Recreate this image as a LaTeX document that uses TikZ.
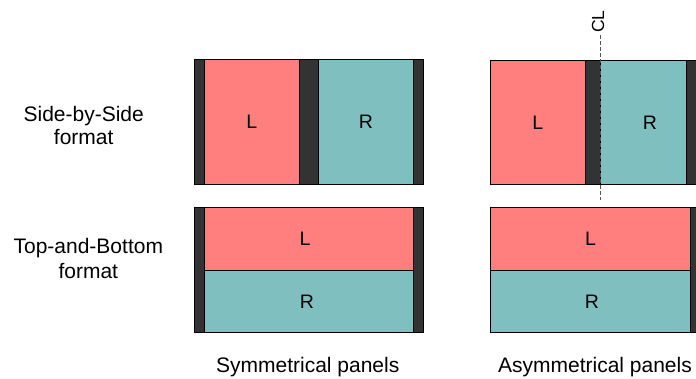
\documentclass[tikz,border=0pt]{standalone}
\usepackage{fontspec}
\setmainfont{Liberation Sans}
\definecolor{panelL}{HTML}{FF7F7F}
\definecolor{panelR}{HTML}{7FBFBF}
\definecolor{barc}{HTML}{333333}
\definecolor{clc}{HTML}{555555}
\begin{document}
\begin{tikzpicture}[x=1pt,y=-1pt,
  lbox/.style={fill=panelL, draw=black, line width=0.8pt},
  rbox/.style={fill=panelR, draw=black, line width=0.8pt},
  dbar/.style={fill=barc, draw=black, line width=0.8pt},
  lab/.style={inner sep=0pt, font=\fontsize{21}{25}\selectfont, anchor=base},
  plab/.style={inner sep=0pt, font=\fontsize{19.5}{22}\selectfont},
  cldash/.style={draw=clc, line width=1pt, dash pattern=on 4pt off 2pt}]
\useasboundingbox (0,0) rectangle (696,379);
\clip (0,0) rectangle (696,379);
% top-left: symmetrical side-by-side
\draw[dbar] (194,59.5) rectangle (204,184.5);
\draw[lbox] (204,59.5) rectangle (299.3,184.5);
\draw[dbar] (299.3,59.5) rectangle (318.3,184.5);
\draw[rbox] (318.3,59.5) rectangle (413.3,184.5);
\draw[dbar] (413.3,59.5) rectangle (423.3,184.5);
\node[plab] (tlL) at (251.7,122) {L};
\node[plab] (tlR) at (365.8,122) {R};
% top-right: asymmetrical side-by-side
\draw[lbox] (490,60.5) rectangle (585.3,184.5);
\draw[dbar] (585.3,60.5) rectangle (600.7,184.5);
\draw[rbox] (600.7,60.5) rectangle (686,184.5);
\draw[dbar] (686,60.5) rectangle (702,184.5);
\node[plab] (trL) at (537.7,122.5) {L};
\node[plab] (trR) at (650,122.5) {R};
% bottom-left: symmetrical top-and-bottom
\draw[dbar] (194,207.5) rectangle (204,332.5);
\draw[lbox] (204,207.5) rectangle (413.3,270.3);
\draw[rbox] (204,270.3) rectangle (413.3,332.5);
\draw[dbar] (413.3,207.5) rectangle (423.3,332.5);
\node[plab] (blL) at (305,239) {L};
\node[plab] (blR) at (307,301.4) {R};
% bottom-right: asymmetrical top-and-bottom
\draw[lbox] (490,207.5) rectangle (690.7,270.3);
\draw[rbox] (490,270.3) rectangle (690.7,332.5);
\draw[dbar] (690.7,207.5) rectangle (702,332.5);
\node[plab] (brL) at (590.5,239) {L};
\node[plab] (brR) at (592,301.4) {R};
% centre line
\node[inner sep=0pt, font=\fontsize{17.5}{20}\selectfont, rotate=90] (cl) at (598,21.7) {CL};
\coordinate (clt) at (600.7,35);
\coordinate (clb) at (600.7,200);
\draw[cldash] (clt) -- (clb);
% row labels
\node[lab] (sbs1) at (83.7,121.7) {Side-by-Side};
\node[lab] (sbs2) at (83.7,145) {format};
\node[lab] (tab1) at (88.3,254) {Top-and-Bottom};
\node[lab] (tab2) at (88.3,278.3) {format};
% captions
\node[lab] (sym) at (307.7,372.3) {Symmetrical panels};
\node[lab] (asym) at (595,372.3) {Asymmetrical panels};
\end{tikzpicture}
\end{document}
